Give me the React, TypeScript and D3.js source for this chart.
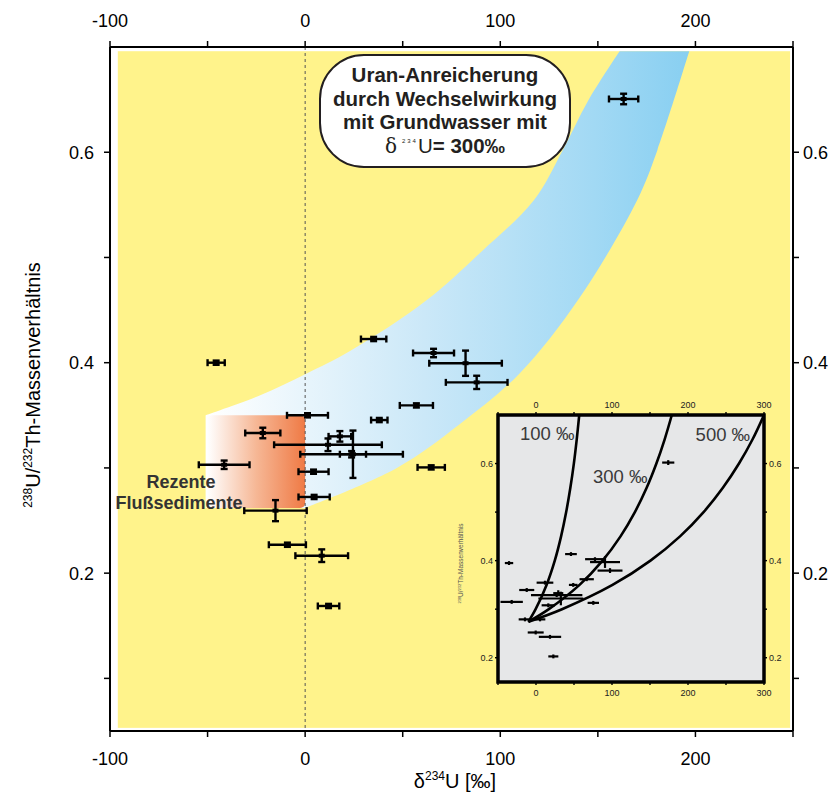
import React from 'react';
import * as d3 from 'd3';

const W = 838;
const H = 796;

// ---- main axes ----
const xDomain = [-100, 250];
const yDomain = [0.05, 0.7];
const xTicks = [-100, -50, 0, 50, 100, 150, 200, 250];
const xTickLabels = [-100, 0, 100, 200];
const yTicks = [0.1, 0.2, 0.3, 0.4, 0.5, 0.6];
const yTickLabels = [0.2, 0.4, 0.6];

// background fields (data units)
const yellowX = [-96, 248.5];
const yellowY = [0.053, 0.696];
const sedimentX = [-50, 0];
const sedimentY = [0.262, 0.35];

// groundwater band edges
const bandUpperX = [-51, -23, 0, 23, 62, 90, 117, 132, 145, 161.5];
const bandUpperY = [0.35, 0.369, 0.389, 0.411, 0.459, 0.505, 0.554, 0.602, 0.649, 0.697];
const bandLowerX = [0, 47, 79.5, 110, 140, 170, 180.5, 197];
const bandLowerY = [0.262, 0.3, 0.342, 0.39, 0.46, 0.554, 0.602, 0.697];

// main measurements
const ptX = [163.2, -45.6, 35.1, 65.8, 82.2, 87.9, 57, 38, 1.2, -21.7, 17.8, 11.7, 23.8, 24.5, 4.3, -41.5, 4.6, -15.2, -9.1, 8.5, 12, 64.6];
const ptXErr = [7.5, 4.4, 6.5, 10.5, 18.6, 15.8, 8.5, 4.2, 10.5, 9, 5.8, 27.6, 26.3, 6.7, 7.7, 13, 8, 16, 9.5, 13.5, 5.5, 7];
const ptY = [0.6506, 0.4, 0.4225, 0.4092, 0.3995, 0.3813, 0.3594, 0.3455, 0.35, 0.3332, 0.33, 0.322, 0.313, 0.313, 0.2964, 0.303, 0.2724, 0.2594, 0.227, 0.2166, 0.1688, 0.3005];
const ptYErr = [0.005, 0.002, 0.002, 0.004, 0.012, 0.0063, 0.002, 0.002, 0.002, 0.005, 0.005, 0.006, 0.003, 0.0225, 0.002, 0.004, 0.002, 0.01, 0.002, 0.006, 0.002, 0.002];

// ---- inset ----
const insetXDomain = [-50, 300];
const insetYDomain = [0.15, 0.7];
const insetXTicks = [-50, 0, 50, 100, 150, 200, 250, 300];
const insetXTickLabels = [0, 100, 200, 300];
const insetYTicks = [0.2, 0.3, 0.4, 0.5, 0.6];
const insetYTickLabels = [0.2, 0.4, 0.6];

const mixY = [0.274, 0.3, 0.35, 0.4, 0.45, 0.5, 0.55, 0.6, 0.65, 0.7];
const mix100X = [-10, -0.5, 13.9, 24.7, 33.0, 39.7, 45.2, 49.8, 53.6, 56.9];
const mix300X = [-10, 16.9, 57.3, 87.6, 111.2, 130.1, 145.6, 158.4, 169.3, 178.7];
const mix500X = [-10, 34.2, 100.7, 150.6, 189.5, 220.5, 245.9, 267.1, 285.0, 300];
const mixLabels = ['100 ‰', '300 ‰', '500 ‰'];
const mixLabelX = [-21, 75, 210];
const mixLabelY = [0.6485, 0.56, 0.6465];

const inX = [174, -35.5, 46, 77.6, 90.8, 97.4, 66.7, 49, 11.8, -12.2, 29.3, 27.2, 32.7, -32, 75.4, 16.2, -14.5, 5.3, -0.4, 18.4, 22.8];
const inXErr = [8, 5.5, 7.7, 13, 19.7, 16.4, 9.4, 5.7, 11, 9.9, 6.6, 33.8, 29.6, 14.7, 7.5, 8.8, 8.3, 7, 10.5, 14.7, 6.6];
const inY = [0.602, 0.395, 0.4135, 0.403, 0.397, 0.3795, 0.3617, 0.35, 0.3546, 0.3395, 0.333, 0.329, 0.322, 0.315, 0.313, 0.308, 0.279, 0.279, 0.252, 0.243, 0.2027];
const inYErr = [0.005, 0.004, 0.004, 0.004, 0.012, 0.005, 0.004, 0.004, 0.004, 0.004, 0.006, 0.004, 0.014, 0.004, 0.004, 0.004, 0.004, 0.004, 0.004, 0.004, 0.004];

const YELLOW = '#fff38b';
const INK = '#231f20';
const SANS = '"Liberation Sans", Arial, Helvetica, sans-serif';

export default function App() {
  const x = d3.scaleLinear().domain(xDomain).range([110, 793]);
  const y = d3.scaleLinear().domain(yDomain).range([731, 47]);
  const ix = d3.scaleLinear().domain(insetXDomain).range([498, 764]);
  const iy = d3.scaleLinear().domain(insetYDomain).range([682, 415]);

  const edge = d3
    .line<[number, number]>()
    .x((d) => x(d[0]))
    .y((d) => y(d[1]))
    .curve(d3.curveCatmullRom.alpha(0.5));
  const upperPts = bandUpperX.map((v, i) => [v, bandUpperY[i]] as [number, number]);
  const lowerPts = bandLowerX.map((v, i) => [v, bandLowerY[i]] as [number, number]).reverse();
  const upperPath = edge(upperPts) || '';
  const lowerPath = edge(lowerPts) || '';
  const bandPath =
    upperPath + 'L' + lowerPath.slice(1) + `L${x(-51)},${y(0.262)}Z`;

  const mixLine = (xs: number[]) =>
    d3
      .line<number>()
      .x((d, i) => ix(xs[i]))
      .y((d) => iy(d))
      .curve(d3.curveCatmullRom.alpha(0.5))(mixY) || '';

  const f1 = d3.format('.1f');

  return (
    <svg
      width={W}
      height={H}
      style={{ position: 'absolute', left: 0, top: 0, background: '#fff' }}
      fontFamily={SANS}
    >
      <defs>
        <linearGradient id="bandGrad" gradientUnits="userSpaceOnUse" x1={x(-50)} y1={0} x2={x(197)} y2={0}>
          <stop offset="0" stopColor="#ffffff" />
          <stop offset="0.45" stopColor="#cbe8f8" />
          <stop offset="0.8" stopColor="#a2d9f4" />
          <stop offset="1" stopColor="#88cff1" />
        </linearGradient>
        <linearGradient id="sedGrad" gradientUnits="userSpaceOnUse" x1={x(-50)} y1={0} x2={x(0)} y2={0}>
          <stop offset="0" stopColor="#ffffff" />
          <stop offset="0.5" stopColor="#f6b795" />
          <stop offset="1" stopColor="#ef7a45" />
        </linearGradient>
        <clipPath id="yellowClip">
          <rect x={x(yellowX[0])} y={y(yellowY[1])} width={x(yellowX[1]) - x(yellowX[0])} height={y(yellowY[0]) - y(yellowY[1])} />
        </clipPath>
      </defs>

      {/* yellow field */}
      <rect
        x={x(yellowX[0])}
        y={y(yellowY[1])}
        width={x(yellowX[1]) - x(yellowX[0])}
        height={y(yellowY[0]) - y(yellowY[1])}
        fill={YELLOW}
      />
      {/* groundwater band */}
      <path d={bandPath} fill="url(#bandGrad)" clipPath="url(#yellowClip)" />
      {/* recent river sediments */}
      <rect
        x={x(sedimentX[0])}
        y={y(sedimentY[1])}
        width={x(sedimentX[1]) - x(sedimentX[0])}
        height={y(sedimentY[0]) - y(sedimentY[1])}
        rx={5}
        fill="url(#sedGrad)"
      />
      {/* zero line */}
      <line x1={x(0)} x2={x(0)} y1={y(yDomain[1])} y2={y(yDomain[0])} stroke="#555" strokeWidth={1} strokeDasharray="3,3" />

      <text x={181} y={488} textAnchor="middle" fontSize={18} fontWeight="bold" fill="#333">Rezente</text>
      <text x={179} y={509} textAnchor="middle" fontSize={18} fontWeight="bold" fill="#333">Flußsedimente</text>

      {/* main data points */}
      {ptX.map((v, i) => {
        const cx = x(v);
        const cy = y(ptY[i]);
        const x0 = x(v - ptXErr[i]);
        const x1 = x(v + ptXErr[i]);
        const y0 = y(ptY[i] + ptYErr[i]);
        const y1 = y(ptY[i] - ptYErr[i]);
        return (
          <g key={'p' + i} stroke="#000" strokeWidth={2.4} fill="#000">
            <line x1={x0} x2={x1} y1={cy} y2={cy} />
            <line x1={x0} x2={x0} y1={cy - 3.5} y2={cy + 3.5} />
            <line x1={x1} x2={x1} y1={cy - 3.5} y2={cy + 3.5} />
            <line x1={cx} x2={cx} y1={y0} y2={y1} />
            <line x1={cx - 3.5} x2={cx + 3.5} y1={y0} y2={y0} />
            <line x1={cx - 3.5} x2={cx + 3.5} y1={y1} y2={y1} />
            <rect x={cx - 3} y={cy - 2} width={6} height={4} stroke="none" />
          </g>
        );
      })}

      {/* inset */}
      <g>
        <rect x={ix(insetXDomain[0])} y={iy(insetYDomain[1])} width={ix(insetXDomain[1]) - ix(insetXDomain[0])} height={iy(insetYDomain[0]) - iy(insetYDomain[1])} fill="#e6e7e8" />
        {[mix100X, mix300X, mix500X].map((xs, k) => (
          <path key={'m' + k} d={mixLine(xs)} fill="none" stroke="#000" strokeWidth={2.6} />
        ))}
        {mixLabels.map((t, k) => (
          <text key={'ml' + k} x={ix(mixLabelX[k])} y={iy(mixLabelY[k])} fontSize={18.5} fill="#3a3a3a">{t}</text>
        ))}
        {inX.map((v, i) => {
          const cx = ix(v);
          const cy = iy(inY[i]);
          return (
            <g key={'q' + i} stroke="#000" strokeWidth={2.2}>
              <line x1={ix(v - inXErr[i])} x2={ix(v + inXErr[i])} y1={cy} y2={cy} />
              <line x1={cx} x2={cx} y1={iy(inY[i] + inYErr[i])} y2={iy(inY[i] - inYErr[i])} />
            </g>
          );
        })}
        <rect x={ix(insetXDomain[0])} y={iy(insetYDomain[1])} width={ix(insetXDomain[1]) - ix(insetXDomain[0])} height={iy(insetYDomain[0]) - iy(insetYDomain[1])} fill="none" stroke="#000" strokeWidth={3.5} />
        {insetXTicks.map((t) => (
          <g key={'ixt' + t} stroke="#000" strokeWidth={1.4}>
            <line x1={ix(t)} x2={ix(t)} y1={iy(insetYDomain[1])} y2={iy(insetYDomain[1]) - 3} />
            <line x1={ix(t)} x2={ix(t)} y1={iy(insetYDomain[0])} y2={iy(insetYDomain[0]) + 3} />
          </g>
        ))}
        {insetYTicks.map((t) => (
          <g key={'iyt' + t} stroke="#000" strokeWidth={1.4}>
            <line x1={ix(insetXDomain[0])} x2={ix(insetXDomain[0]) - 3} y1={iy(t)} y2={iy(t)} />
            <line x1={ix(insetXDomain[1])} x2={ix(insetXDomain[1]) + 3} y1={iy(t)} y2={iy(t)} />
          </g>
        ))}
        {insetXTickLabels.map((t) => (
          <g key={'ixl' + t} fontSize={9} fill="#222" textAnchor="middle">
            <text x={ix(t)} y={iy(insetYDomain[1]) - 7}>{t}</text>
            <text x={ix(t)} y={iy(insetYDomain[0]) + 14}>{t}</text>
          </g>
        ))}
        {insetYTickLabels.map((t) => (
          <g key={'iyl' + t} fontSize={9} fill="#222">
            <text x={ix(insetXDomain[0]) - 5} y={iy(t) + 3} textAnchor="end">{f1(t)}</text>
            <text x={ix(insetXDomain[1]) + 5} y={iy(t) + 3}>{f1(t)}</text>
          </g>
        ))}
        <text transform={`translate(${ix(insetXDomain[0]) - 35},${(iy(insetYDomain[0]) + iy(insetYDomain[1])) / 2 + 15}) rotate(-90)`} textAnchor="middle" fontSize={6.5} fill="#555">
          <tspan fontSize={4} dy={-2}>238</tspan>
          <tspan dy={2}>U/</tspan>
          <tspan fontSize={4} dy={-2}>232</tspan>
          <tspan dy={2}>Th-Massenverhältnis</tspan>
        </text>
      </g>

      {/* annotation box */}
      <rect x={320} y={55} width={250} height={112} rx={44} ry={44} fill="#fff" stroke={INK} strokeWidth={2} />
      <g fontSize={20.5} fontWeight="bold" fill={INK} textAnchor="middle">
        <text x={445} y={82}>Uran-Anreicherung</text>
        <text x={445} y={105.5}>durch Wechselwirkung</text>
        <text x={445} y={129}>mit Grundwasser mit</text>
        <text x={445} y={153}>
          <tspan fontWeight="normal" fontFamily='"DejaVu Serif", serif' fontSize={20}>δ</tspan>
          <tspan fontWeight="normal" fontSize={6} dy={-10} dx={5} letterSpacing={2}>234</tspan>
          <tspan fontWeight="normal" dy={10}>U</tspan>
          <tspan>= 300‰</tspan>
        </text>
      </g>

      {/* axes frame */}
      <g stroke="#000" strokeWidth={2} fill="none">
        <line x1={x(xDomain[0])} x2={x(xDomain[1])} y1={y(yDomain[1])} y2={y(yDomain[1])} />
        <line x1={x(xDomain[0])} x2={x(xDomain[1])} y1={y(yDomain[0])} y2={y(yDomain[0])} />
        <line x1={x(xDomain[0])} x2={x(xDomain[0])} y1={y(yDomain[0])} y2={y(yDomain[1])} />
        <line x1={x(xDomain[1])} x2={x(xDomain[1])} y1={y(yDomain[0])} y2={y(yDomain[1])} />
      </g>
      {xTicks.map((t) => (
        <g key={'xt' + t} stroke="#000" strokeWidth={1.5}>
          <line x1={x(t)} x2={x(t)} y1={y(yDomain[1])} y2={y(yDomain[1]) - 6} />
          <line x1={x(t)} x2={x(t)} y1={y(yDomain[0])} y2={y(yDomain[0]) + 6} />
        </g>
      ))}
      {yTicks.map((t) => (
        <g key={'yt' + t} stroke="#000" strokeWidth={1.5}>
          <line x1={x(xDomain[0])} x2={x(xDomain[0]) - 6} y1={y(t)} y2={y(t)} />
          <line x1={x(xDomain[1])} x2={x(xDomain[1]) + 6} y1={y(t)} y2={y(t)} />
        </g>
      ))}
      {xTickLabels.map((t) => (
        <g key={'xl' + t} fontSize={18} fill="#000" textAnchor="middle">
          <text x={x(t)} y={27}>{t}</text>
          <text x={x(t)} y={765}>{t}</text>
        </g>
      ))}
      {yTickLabels.map((t) => (
        <g key={'yl' + t} fontSize={18} fill="#000">
          <text x={94} y={y(t) + 6.5} textAnchor="end">{f1(t)}</text>
          <text x={803} y={y(t) + 6.5}>{f1(t)}</text>
        </g>
      ))}

      {/* axis titles */}
      <text x={455} y={788} textAnchor="middle" fontSize={20} fill="#000">
        <tspan>δ</tspan>
        <tspan fontSize={12} dy={-8}>234</tspan>
        <tspan dy={8}>U [‰]</tspan>
      </text>
      <text transform="translate(40,385) rotate(-90)" textAnchor="middle" fontSize={20} fill="#000">
        <tspan fontSize={12} dy={-8}>238</tspan>
        <tspan dy={8}>U/</tspan>
        <tspan fontSize={12} dy={-8}>232</tspan>
        <tspan dy={8}>Th-Massenverhältnis</tspan>
      </text>
    </svg>
  );
}
